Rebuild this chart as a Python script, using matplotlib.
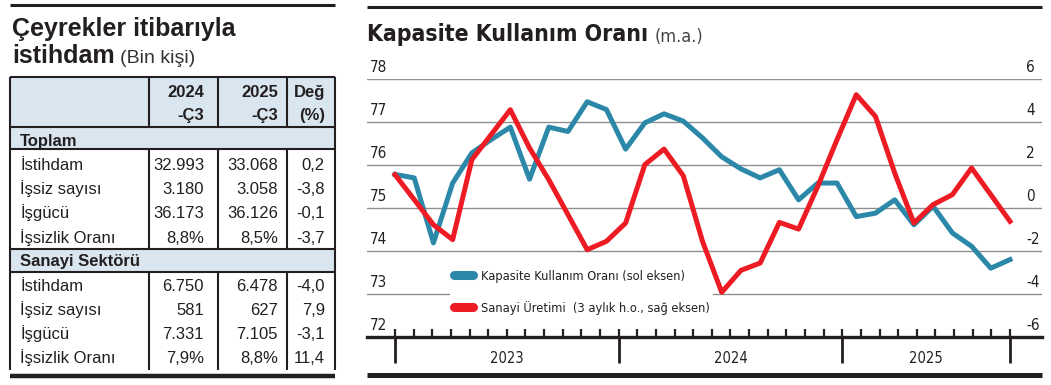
import numpy as np
import matplotlib.pyplot as plt
from matplotlib.lines import Line2D
from matplotlib.patches import Rectangle

# ---- table data ----
table_title = 'Çeyrekler itibarıyla'
table_title2 = 'istihdam'
table_unit = '(Bin kişi)'
col_heads = [('2024', '-Ç3'), ('2025', '-Ç3'), ('Değ', '(%)')]
row_labels = ['İstihdam', 'İşsiz sayısı', 'İşgücü', 'İşsizlik Oranı']
toplam_2024 = ['32.993', '3.180', '36.173', '8,8%']
toplam_2025 = ['33.068', '3.058', '36.126', '8,5%']
toplam_deg = ['0,2', '-3,8', '-0,1', '-3,7']
sanayi_2024 = ['6.750', '581', '7.331', '7,9%']
sanayi_2025 = ['6.478', '627', '7.105', '8,8%']
sanayi_deg = ['-4,0', '7,9', '-3,1', '11,4']

# ---- chart data (monthly, Jan 2023 - Sep 2025) ----
kko = [75.78, 75.70, 74.19, 75.58, 76.28, 76.59, 76.88, 75.67, 76.88, 76.78,
       77.47, 77.29, 76.37, 76.98, 77.19, 77.02, 76.63, 76.19, 75.91, 75.70,
       75.89, 75.19, 75.58, 75.58, 74.80, 74.88, 75.19, 74.61, 75.04, 74.42,
       74.11, 73.60, 73.80]
sanayi = [1.55, 0.39, -0.78, -1.47, 2.25, 3.41, 4.57, 2.79, 1.32, -0.31,
          -1.94, -1.55, -0.70, 2.02, 2.74, 1.50, -1.55, -3.92, -2.90, -2.56,
          -0.67, -0.98, 1.01, 3.18, 5.27, 4.26, 1.63, -0.70, 0.16, 0.62,
          1.86, 0.62, -0.62]
years = ['2023', '2024', '2025']
months_per_year = [12, 12, 9]
left_ticks = [72, 73, 74, 75, 76, 77, 78]
right_ticks = [-6, -4, -2, 0, 2, 4, 6]
legend_labels = ['Kapasite Kullanım Oranı (sol eksen)',
                 'Sanayi Üretimi  (3 aylık h.o., sağ eksen)']

W, H = 1051, 385
BLUE = '#2b88a8'
RED = '#ed1c24'
INK = '#231f20'
NARROW = dict(family='DejaVu Sans', stretch='condensed')
PT = 0.72  # points per pixel at dpi 100

fig = plt.figure(figsize=(W / 100, H / 100), dpi=100)

# overlay axes in pixel coordinates for the table and titles
ov = fig.add_axes([0, 0, 1, 1])
ov.set_xlim(0, W)
ov.set_ylim(H, 0)
ov.axis('off')

# ---- left panel ----
ov.plot([10, 335], [5, 5], color=INK, lw=2.2, solid_capstyle='butt')
ov.text(12, 36, table_title, fontsize=18, fontweight='bold', color=INK,
        family='Liberation Sans', va='baseline')
ov.text(12, 63, table_title2, fontsize=18, fontweight='bold', color=INK,
        family='Liberation Sans', va='baseline')
ov.text(120, 63, table_unit, fontsize=14, color='#333333',
        family='Liberation Sans', va='baseline')

bg = '#d9e6ef'
ov.add_patch(Rectangle((10, 77), 325, 50, color=bg, lw=0))
ov.add_patch(Rectangle((10, 127), 325, 22, color=bg, lw=0))
ov.add_patch(Rectangle((10, 249), 325, 23, color=bg, lw=0))

lw_t = 1.5
for y in [77, 127, 149, 249, 272]:
    ov.plot([10, 335], [y, y], color=INK, lw=lw_t, solid_capstyle='butt')
for x in [10, 335]:
    ov.plot([x, x], [77, 370], color=INK, lw=lw_t, solid_capstyle='butt')
for x in [149, 218, 287]:
    for y0, y1 in [(77, 127), (149, 249), (272, 370)]:
        ov.plot([x, x], [y0, y1], color=INK, lw=lw_t, solid_capstyle='butt')
ov.plot([10, 335], [376, 376], color=INK, lw=3.2, solid_capstyle='butt')

col_right = [204, 278, 325]
for xr, (a, b) in zip(col_right, col_heads):
    ov.text(xr, 97, a, ha='right', va='baseline', fontsize=12,
            fontweight='bold', color=INK, family='Liberation Sans')
    ov.text(xr, 120, b, ha='right', va='baseline', fontsize=12,
            fontweight='bold', color=INK, family='Liberation Sans')

ov.text(20, 146, 'Toplam', fontsize=12, fontweight='bold', color=INK,
        family='Liberation Sans', va='baseline')
ov.text(20, 266, 'Sanayi Sektörü', fontsize=12, fontweight='bold', color=INK,
        family='Liberation Sans', va='baseline')

blocks = [([170, 194, 218, 243], toplam_2024, toplam_2025, toplam_deg),
          ([291, 315, 339, 363], sanayi_2024, sanayi_2025, sanayi_deg)]
for ys, c1, c2, c3 in blocks:
    for i, y in enumerate(ys):
        ov.text(20, y, row_labels[i], fontsize=12, color=INK,
                family='Liberation Sans', va='baseline')
        for xr, vals in zip(col_right, [c1, c2, c3]):
            ov.text(xr, y, vals[i], ha='right', va='baseline', fontsize=12,
                    color=INK, family='Liberation Sans')

# ---- right panel ----
ov.plot([367, 1042], [7, 7], color=INK, lw=2.2, solid_capstyle='butt')
ov.plot([367, 1042], [374.5, 374.5], color=INK, lw=3.6, solid_capstyle='butt')
title = ov.text(367, 41, 'Kapasite Kullanım Oranı', fontsize=16.5,
                fontweight='bold', color=INK, va='baseline', **NARROW)
fig.canvas.draw()
tb = title.get_window_extent()
ov.annotate('(m.a.)', xy=(tb.x1, tb.y0), xycoords='figure pixels',
            xytext=(6 * PT, 0), textcoords='offset points', ha='left',
            va='bottom', fontsize=13, color='#444444', **NARROW)

n = len(kko)
x = np.arange(n)
step = 19.22
ax = fig.add_axes([367 / W, (H - 337) / H, 675 / W, 258 / H])
ax.set_facecolor('none')
ax.set_xlim(-28 / step, (n - 1) + 32 / step)
ax.set_ylim(72, 78)
ax.set_yticks(left_ticks)
ax.yaxis.grid(True, color='#8f8f8f', lw=1.0)
ax.tick_params(axis='y', length=0, labelleft=False)
for s in ['top', 'left', 'right']:
    ax.spines[s].set_visible(False)
ax.spines['bottom'].set_linewidth(2.4)
ax.spines['bottom'].set_color(INK)
ax.spines['bottom'].set_zorder(5)

# monthly ticks across the axis span; year boundaries as long ticks
n_months = sum(months_per_year) + 1
month_pos = np.linspace(0, n - 1, n_months)
bounds = np.concatenate([[0], np.cumsum(months_per_year)])
ax.xaxis.remove_overlapping_locs = False
ax.set_xticks(month_pos[bounds])
ax.set_xticks(month_pos, minor=True)
ax.tick_params(axis='x', which='major', direction='out', length=26 * PT,
               width=2.0, color=INK, labelbottom=False)
ax.tick_params(axis='x', which='minor', direction='in', length=8 * PT,
               width=1.6, color=INK)
for k, yr in enumerate(years):
    mid = (month_pos[bounds[k]] + month_pos[bounds[k + 1]]) / 2
    ax.annotate(yr, xy=(mid, 0), xycoords=('data', 'axes fraction'),
                xytext=(0, -26 * PT), textcoords='offset points', ha='center',
                va='baseline', fontsize=10.5, color=INK, **NARROW)

for v in left_ticks:
    ax.annotate(str(v), xy=(0, v), xycoords=('axes fraction', 'data'),
                xytext=(3 * PT, 7 * PT), textcoords='offset points',
                ha='left', va='baseline', fontsize=11, color=INK, **NARROW)

ax.plot(x, kko, color=BLUE, lw=3.6, clip_on=False, zorder=3)

handles = [Line2D([], [], color=BLUE, lw=6.5, solid_capstyle='round'),
           Line2D([], [], color=RED, lw=6.5, solid_capstyle='round')]
leg = ax.legend(handles, legend_labels, loc='upper left',
                bbox_to_anchor=(450 / W, (H - 266) / H),
                bbox_transform=fig.transFigure, frameon=True,
                prop=dict(size=9.2, **NARROW), handlelength=1.5,
                handletextpad=0.6, labelspacing=1.4, borderpad=0.3,
                borderaxespad=0, fancybox=False)
leg.set_zorder(2)
leg.get_frame().set_facecolor('white')
leg.get_frame().set_edgecolor('none')
leg.get_frame().set_alpha(1)
for txt in leg.get_texts():
    txt.set_color(INK)

ax2 = ax.twinx()
ax2.set_ylim(-6, 6)
ax2.axis('off')
ax2.plot(x, sanayi, color=RED, lw=3.6, clip_on=False)
for v in right_ticks:
    ax2.annotate(str(v), xy=(1, v), xycoords=('axes fraction', 'data'),
                 xytext=(-16 * PT, 7 * PT), textcoords='offset points',
                 ha='left', va='baseline', fontsize=11, color=INK, **NARROW)

fig.savefig('out.png', dpi=100)
